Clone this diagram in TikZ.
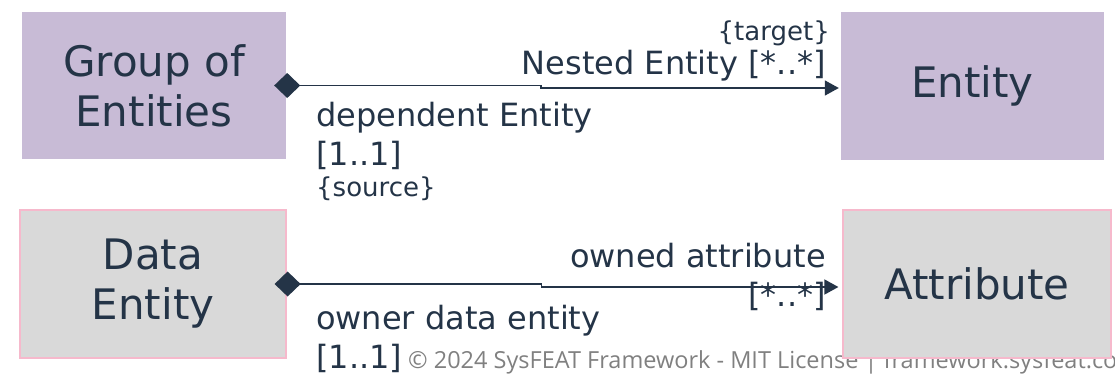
\documentclass[tikz,border=0pt]{standalone}
\usepackage{fontspec}
\setmainfont{DejaVu Sans}
\newfontfamily\footfont{Open Sans}
\usetikzlibrary{arrows.meta}

\definecolor{ink}{HTML}{243447}
\definecolor{lavender}{HTML}{C8BBD6}
\definecolor{boxgray}{HTML}{D9D9D9}
\definecolor{boxpink}{HTML}{F6B9CC}
\definecolor{footgray}{HTML}{808080}

\tikzset{
  classbox/.style={rectangle, inner sep=0pt, text=ink, align=center,
    font=\fontsize{42}{50}\selectfont},
  groupbox/.style={classbox, fill=lavender},
  databox/.style={classbox, fill=boxgray, draw=boxpink, line width=1.2pt},
  rolelabel/.style={inner sep=0pt, text=ink, font=\fontsize{32}{39}\selectfont},
  bracelabel/.style={inner sep=0pt, text=ink, font=\fontsize{26}{30}\selectfont},
  assoc/.style={draw=ink, line width=1.5pt,
    {Diamond[length=26pt,width=25pt]}-{Triangle[length=14pt,width=15pt]}},
  footnote/.style={inner sep=0pt, text=footgray, font=\footfont\fontsize{23.5}{28}\selectfont}
}

\begin{document}
\begin{tikzpicture}[x=1pt,y=-1pt]
  \useasboundingbox (0,0) rectangle (1115,375);
  \clip (0,0) rectangle (1115,375);

  % copyright line, partly covered by the attribute box
  \node[footnote, anchor=base west] (foot) at (408,368)
    {© 2024 SysFEAT Framework - MIT License | framework.sysfeat.com};

  % classes
  \node[groupbox, minimum width=264pt, minimum height=147pt] (group) at (154,85.5) {Group of\\Entities};
  \node[groupbox, minimum width=263pt, minimum height=148pt] (entity) at (972.5,86) {Entity};
  \node[databox, minimum width=266pt, minimum height=148pt] (data) at (153,284) {Data\\Entity};
  \node[databox, minimum width=268pt, minimum height=148pt] (attr) at (977,284) {Attribute};

  % composition: group of entities -> entity
  \draw[assoc] ([xshift=-12pt]group.east) -- ++(267,0) coordinate (j1)
    -- ++(0,2.5) -- ([xshift=-2pt]entity.west |- 0,88);
  \node[bracelabel, anchor=base east] (target) at (830,40) {\{target\}};
  \node[rolelabel, anchor=base east] (nested) at (826,74) {Nested Entity [*..*]};
  % multi-line labels are anchored at the baseline of their last line
  \node[rolelabel, anchor=base west, align=left] (dep) at (316,165) {dependent Entity\\{}[1..1]};
  \node[bracelabel, anchor=base west] (source) at (316,196) {\{source\}};

  % composition: data entity -> attribute
  \draw[assoc] ([xshift=-12pt]data.east) -- ++(267,0) coordinate (j2)
    -- ++(0,3) -- ([xshift=-4pt]attr.west |- 0,287);
  \node[rolelabel, anchor=base east, align=right] (owned) at (826,306) {owned attribute\\{}[*..*]};
  \node[rolelabel, anchor=base west, align=left] (owner) at (316,368) {owner data entity\\{}[1..1]};
\end{tikzpicture}
\end{document}
